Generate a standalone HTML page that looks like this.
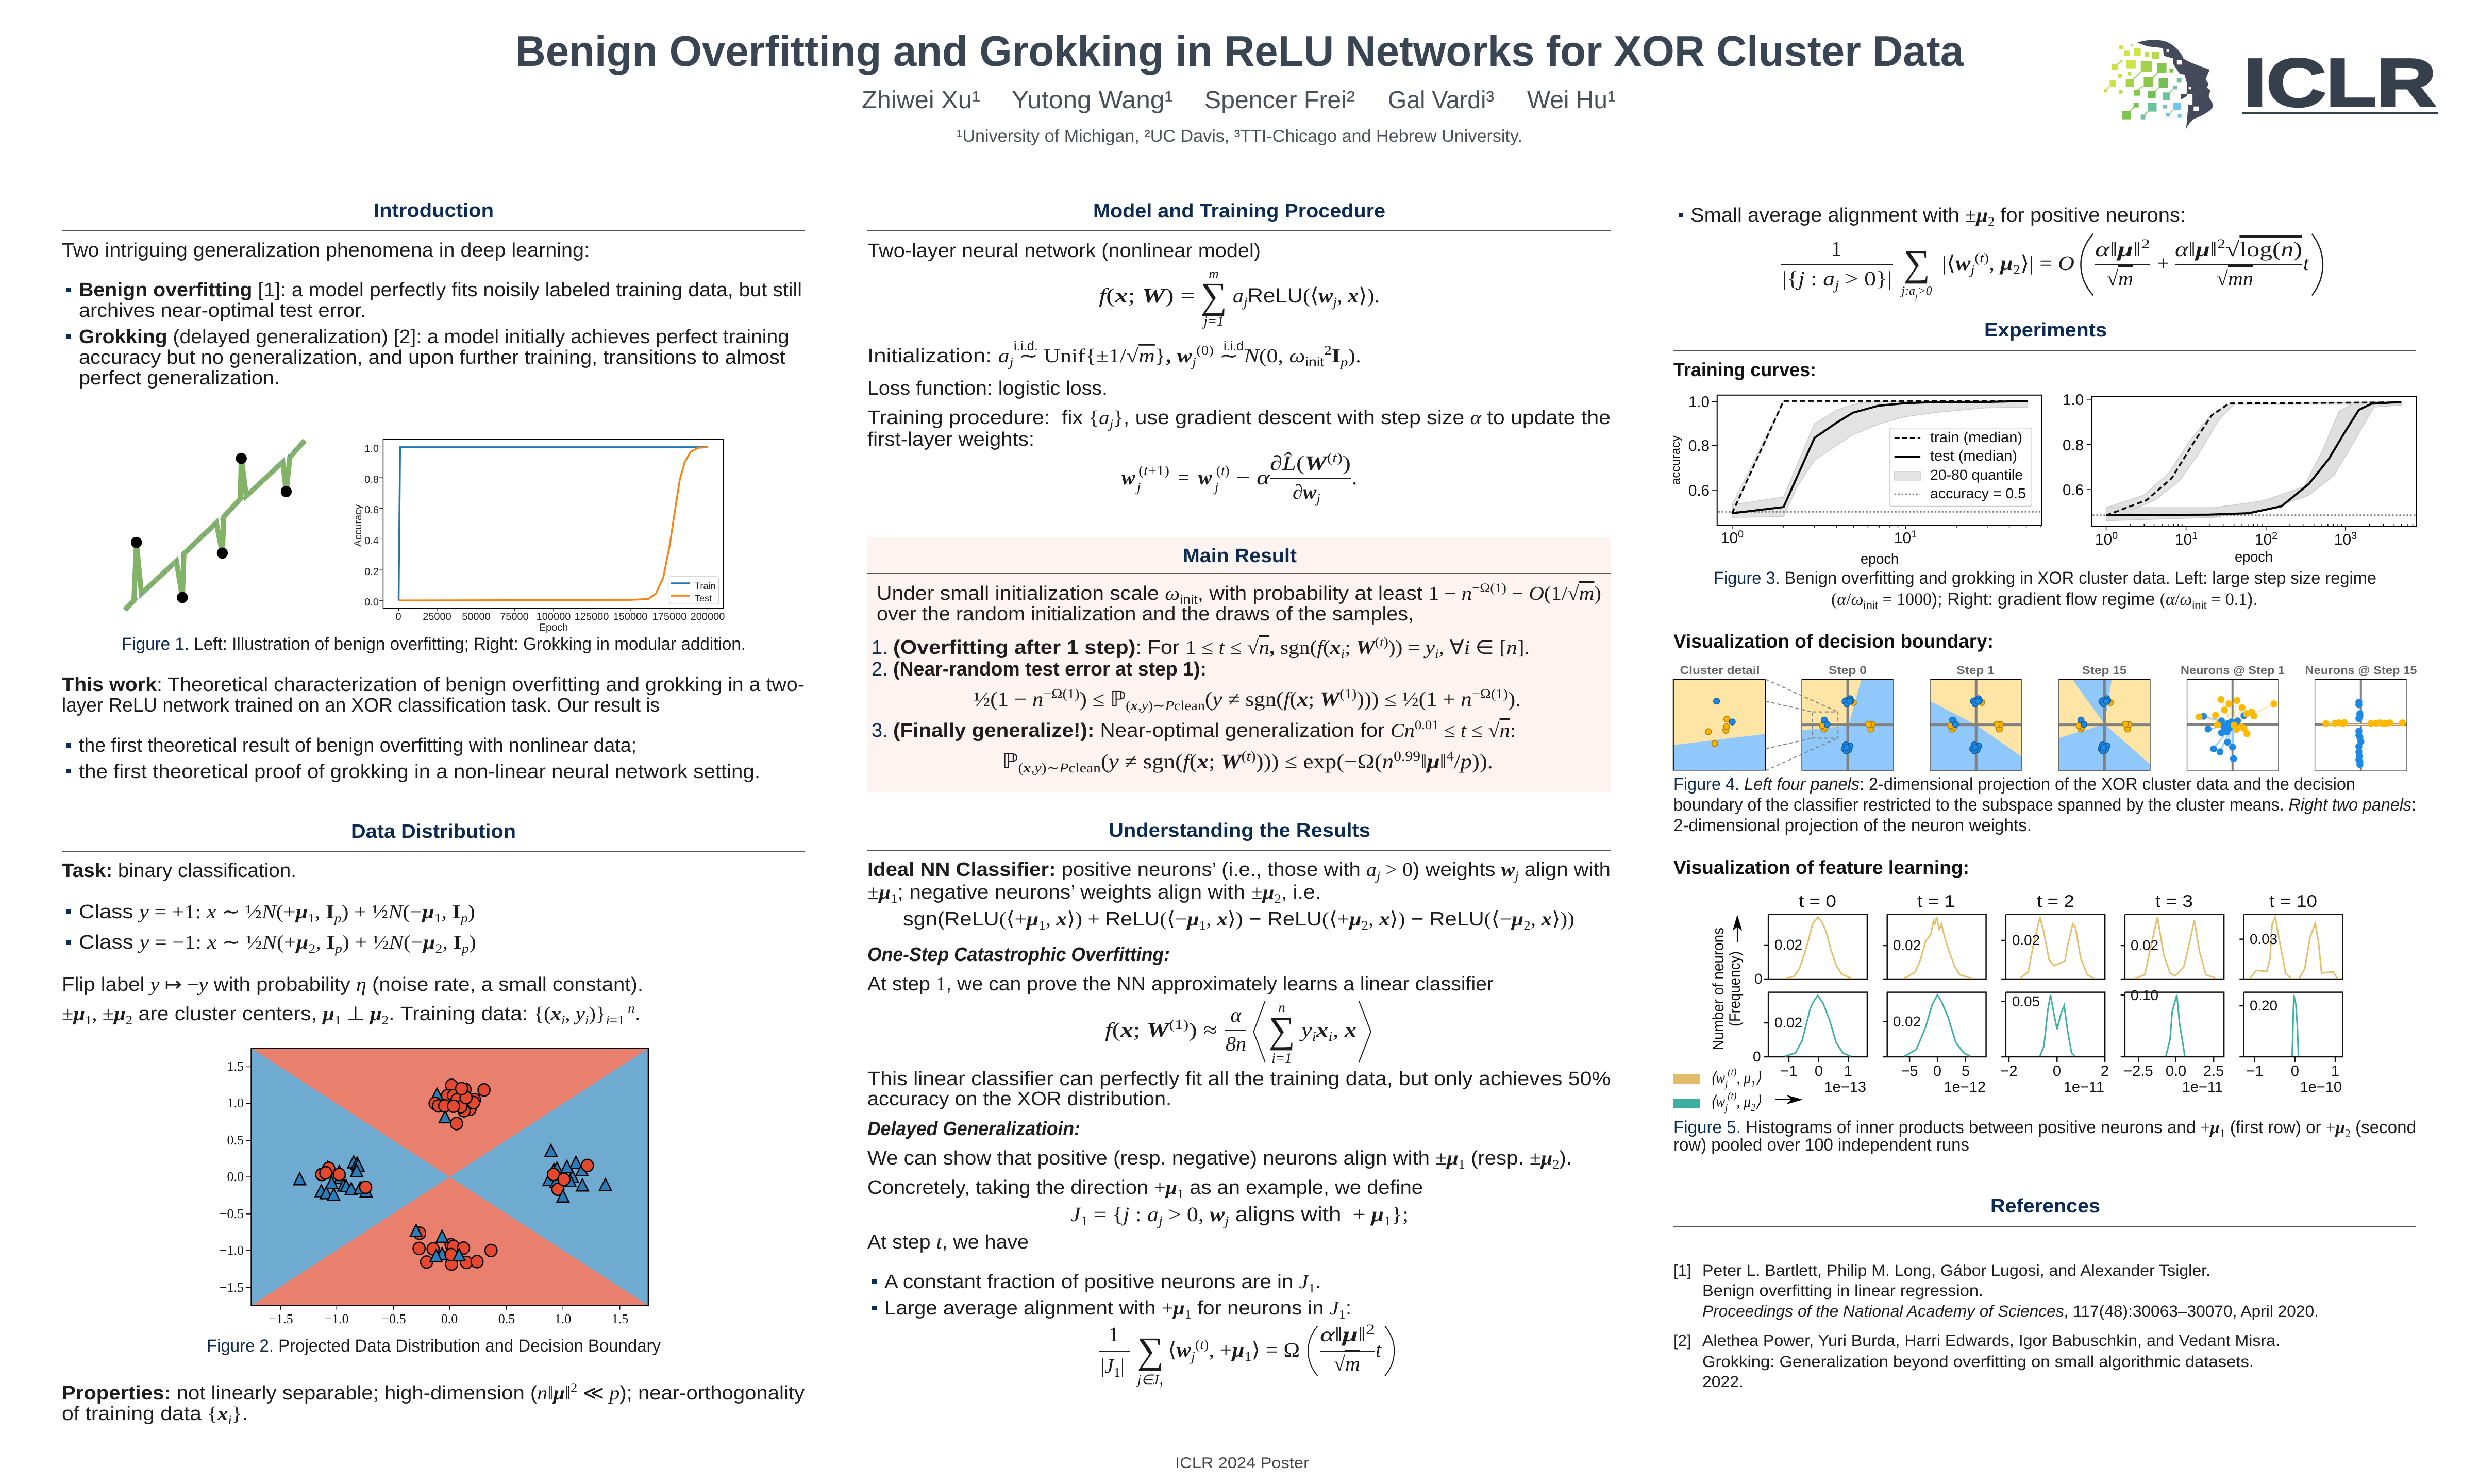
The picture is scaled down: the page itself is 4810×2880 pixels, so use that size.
<!DOCTYPE html>
<html lang="en"><head><meta charset="utf-8"><title>Benign Overfitting and Grokking in ReLU Networks for XOR Cluster Data</title>
<style>
html,body{margin:0;padding:0;background:#fff}
svg{display:block}
text{font-family:"Liberation Sans",sans-serif;text-rendering:geometricPrecision;white-space:pre}
.b{font-size:38px;fill:#1d1d1d}
.h{font-size:38px;font-weight:700;fill:#0b2b52}
.sh{font-size:37px;font-weight:700;fill:#111}
.c{font-size:34px;fill:#1d1d1d}
.r{font-size:31px;fill:#1d1d1d}
.e{font-size:40px;fill:#1d1d1d}
.t{font-size:28px;fill:#111}
.tk{font-size:30px;fill:#111}
.tt{font-size:26px;font-family:"Liberation Serif",serif;fill:#111}
.n{fill:#0b2b52}
.i{font-family:"Liberation Serif",serif;font-style:italic}
.s{font-family:"Liberation Serif",serif}
.v{font-family:"Liberation Serif",serif;font-style:italic;font-weight:700}
.w{font-weight:700}
.u{baseline-shift:-8px;font-size:.66em}
.o{baseline-shift:15px;font-size:.66em}
.it{font-style:italic}
.g{font-size:22px;font-weight:700;fill:#666;text-anchor:middle}
</style></head><body>
<svg xmlns="http://www.w3.org/2000/svg" width="4810" height="2880" viewBox="0 0 4810 2880">
<defs>
<ellipse id="C" rx="12" ry="15" fill="#e4482f" stroke="#000" stroke-width="2.5" vector-effect="non-scaling-stroke"/>
<path id="T" d="M0,-15L-12,14L12,14Z" fill="#2a7db8" stroke="#000" stroke-width="2.5" vector-effect="non-scaling-stroke"/>
<ellipse id="by" rx="12" ry="17.5" fill="#ffb300" stroke="#a67c00" stroke-width="1.5" vector-effect="non-scaling-stroke"/>
<ellipse id="bb" rx="12" ry="17.5" fill="#1e88e5" stroke="#0d5a9e" stroke-width="1.5" vector-effect="non-scaling-stroke"/>
<ellipse id="dy" rx="7" ry="10.5" fill="#ffb900"/>
<ellipse id="db" rx="7" ry="10.5" fill="#1e88e5"/>
<g id="cl">
<use href="#by" x="735" y="250"/><use href="#bb" x="722" y="228"/><use href="#bb" x="705" y="240"/><use href="#bb" x="725" y="240"/><use href="#bb" x="701" y="243"/><use href="#bb" x="708" y="258"/><use href="#bb" x="720" y="243"/>
<use href="#by" x="805" y="405"/><use href="#by" x="810" y="378"/><use href="#by" x="796" y="376"/>
<use href="#by" x="617" y="405"/><use href="#by" x="622" y="393"/><use href="#by" x="610" y="385"/><use href="#bb" x="618" y="352"/><use href="#bb" x="630" y="377"/>
<use href="#bb" x="722" y="503"/><use href="#bb" x="716" y="525"/><use href="#bb" x="698" y="520"/><use href="#bb" x="706" y="532"/><use href="#bb" x="704" y="497"/><use href="#bb" x="708" y="512"/>
</g>
</defs>

<!-- Header -->
<text x="1000" y="128" font-size="84" font-weight="700" fill="#3a4554" textLength="2810" lengthAdjust="spacingAndGlyphs">Benign Overfitting and Grokking in ReLU Networks for XOR Cluster Data</text>
<g font-size="48" fill="#4a4f58">
<text x="1672" y="210" textLength="230" lengthAdjust="spacingAndGlyphs">Zhiwei Xu¹</text>
<text x="1963" y="210" textLength="313" lengthAdjust="spacingAndGlyphs">Yutong Wang¹</text>
<text x="2337" y="210" textLength="292" lengthAdjust="spacingAndGlyphs">Spencer Frei²</text>
<text x="2693" y="210" textLength="206" lengthAdjust="spacingAndGlyphs">Gal Vardi³</text>
<text x="2963" y="210" textLength="172" lengthAdjust="spacingAndGlyphs">Wei Hu¹</text>
</g>
<text x="1856" y="275" font-size="33" fill="#4a4f58" textLength="1098" lengthAdjust="spacingAndGlyphs">¹University of Michigan, ²UC Davis, ³TTI-Chicago and Hebrew University.</text>

<!-- Logo -->
<g transform="matrix(.4464,0,0,.3333,4080,60)">
<g stroke-width="5">
<path d="M63,195L78,180M165,240L130,285M238,245L218,272M177,320L150,345M243,330L228,350M305,340L290,360M137,445L118,465M196,468L182,490M305,460L292,480M28,325L18,340" stroke="#8fcf55" fill="none"/>
</g>
<g>
<rect x="72" y="85" width="18" height="22" fill="#d3e04b"/><rect x="123" y="75" width="10" height="12" fill="#d3e04b"/><rect x="135" y="102" width="30" height="42" fill="#cee54a"/><rect x="94" y="115" width="22" height="32" fill="#cce34a"/><rect x="182" y="122" width="18" height="28" fill="#bfdc4a"/><rect x="215" y="122" width="30" height="40" fill="#b5d94b"/><rect x="103" y="168" width="40" height="50" fill="#cde548"/><rect x="74" y="168" width="12" height="16" fill="#c9e04a"/><rect x="40" y="195" width="25" height="32" fill="#c9e04a"/><rect x="165" y="175" width="48" height="65" fill="#a5d24b"/><rect x="235" y="188" width="42" height="58" fill="#84c64d"/><rect x="290" y="220" width="17" height="22" fill="#7bc24e"/><rect x="110" y="240" width="14" height="20" fill="#c1dc4a"/><rect x="67" y="250" width="18" height="22" fill="#c5df4a"/><rect x="30" y="288" width="28" height="36" fill="#cbe44a"/><rect x="6" y="336" width="14" height="20" fill="#c9e04a"/><rect x="72" y="345" width="14" height="20" fill="#b5d94b"/><rect x="100" y="282" width="35" height="44" fill="#a5d24b"/><rect x="178" y="270" width="40" height="55" fill="#8bc94c"/><rect x="243" y="276" width="40" height="55" fill="#73bf55"/><rect x="322" y="273" width="20" height="28" fill="#6cc596"/><rect x="135" y="345" width="28" height="32" fill="#85c84d"/><rect x="196" y="348" width="34" height="42" fill="#71bf56"/><rect x="260" y="358" width="32" height="46" fill="#6cc29a"/><rect x="305" y="318" width="18" height="22" fill="#67c3a0"/><rect x="134" y="418" width="22" height="28" fill="#79c150"/><rect x="196" y="418" width="38" height="52" fill="#6cc49a"/><rect x="83" y="465" width="38" height="50" fill="#7fc44f"/><rect x="165" y="487" width="20" height="28" fill="#72c49c"/><rect x="262" y="430" width="16" height="22" fill="#6fc5c5"/><rect x="305" y="418" width="34" height="44" fill="#73c4ee"/><rect x="275" y="477" width="18" height="22" fill="#6dc2ee"/><rect x="326" y="486" width="16" height="20" fill="#75c5e8"/>
</g>
<path d="M150,68C190,50 260,40 300,80C325,105 340,125 350,160C370,180 420,205 465,225L447,280L460,310L452,330L468,345L460,380L480,430C480,460 440,490 400,510C380,525 365,560 362,575L372,430L365,380L340,400L340,368L365,365L365,300L355,255L335,250L305,190L305,160L265,145L262,100L195,90Z" fill="#444a5c"/>
<rect x="277" y="105" width="12" height="16" fill="#fff"/><rect x="322" y="170" width="21" height="26" fill="#fff"/><rect x="373" y="324" width="12" height="16" fill="#fff"/><rect x="395" y="440" width="22" height="28" fill="#fff"/>
<rect x="365" y="368" width="25" height="62" fill="#fff"/>
</g>
<text x="4353" y="206" font-size="132" font-weight="700" fill="#36404c" stroke="#36404c" stroke-width="4" textLength="374" lengthAdjust="spacingAndGlyphs">ICLR</text>
<rect x="4351" y="218" width="379" height="3" fill="#36404c"/>

<!-- Column 1: Introduction -->
<text x="725" y="421" class="h" textLength="233" lengthAdjust="spacingAndGlyphs">Introduction</text>
<rect x="120" y="447" width="1441" height="2" fill="#555"/>
<text x="120" y="498" class="b" textLength="1024" lengthAdjust="spacingAndGlyphs">Two intriguing generalization phenomena in deep learning:</text>
<rect x="128" y="558" width="9" height="9" fill="#0b2b52"/>
<text x="153" y="575" class="b" textLength="1403" lengthAdjust="spacingAndGlyphs"><tspan class="w">Benign overfitting</tspan> [1]: a model perfectly fits noisily labeled training data, but still</text>
<text x="153" y="615" class="b" textLength="557" lengthAdjust="spacingAndGlyphs">archives near-optimal test error.</text>
<rect x="128" y="649" width="9" height="9" fill="#0b2b52"/>
<text x="153" y="666" class="b" textLength="1378" lengthAdjust="spacingAndGlyphs"><tspan class="w">Grokking</tspan> (delayed generalization) [2]: a model initially achieves perfect training</text>
<text x="153" y="706" class="b" textLength="1371" lengthAdjust="spacingAndGlyphs">accuracy but no generalization, and upon further training, transitions to almost</text>
<text x="153" y="746" class="b" textLength="390" lengthAdjust="spacingAndGlyphs">perfect generalization.</text>

<!-- Figure 1 -->
<g transform="matrix(.969,0,0,.574,100,380)">
<path d="M147,1400L165,1368L170,1175L180,1345L250,1235L262,1358L265,1210L330,1105L342,1208L345,1085L378,1025L380,888L390,1015L463,900L470,1000L477,885L507,827" fill="none" stroke="#82b366" stroke-width="10" vector-effect="non-scaling-stroke"/>
<path d="M147,1400L507,827" fill="none" stroke="#6c8ebf" stroke-width="4" stroke-dasharray="3 12" vector-effect="non-scaling-stroke"/>
<g fill="#000">
<ellipse cx="170" cy="1172" rx="11" ry="19"/><ellipse cx="262" cy="1358" rx="11" ry="19"/><ellipse cx="342" cy="1208" rx="11" ry="19"/><ellipse cx="380" cy="888" rx="11" ry="19"/><ellipse cx="470" cy="1000" rx="11" ry="19"/>
</g>
<rect x="664" y="823" width="681" height="572" fill="#fff" stroke="#000" stroke-width="1.5" vector-effect="non-scaling-stroke"/>
<path d="M664,849h-8M664,953h-8M664,1057h-8M664,1161h-8M664,1265h-8M664,1368h-8M695,1395v8M772,1395v8M850,1395v8M927,1395v8M1005,1395v8M1082,1395v8M1159,1395v8M1237,1395v8M1314,1395v8" stroke="#000" stroke-width="1" vector-effect="non-scaling-stroke" fill="none"/>
<path d="M695,1368L698,850L1314,850" fill="none" stroke="#1f77b4" stroke-width="3.5" vector-effect="non-scaling-stroke"/>
<path d="M695,1366L700,1368L1160,1366L1195,1363L1210,1345L1225,1290L1238,1180L1245,1100L1258,960L1268,900L1280,865L1295,852L1314,850" fill="none" stroke="#ff7f0e" stroke-width="3.5" vector-effect="non-scaling-stroke"/>
<rect x="1235" y="1287" width="101" height="93" rx="6" fill="#fff" stroke="#ccc" stroke-width="1" vector-effect="non-scaling-stroke"/>
<path d="M1240,1310h38" stroke="#1f77b4" stroke-width="3.5" vector-effect="non-scaling-stroke"/>
<path d="M1240,1352h38" stroke="#ff7f0e" stroke-width="3.5" vector-effect="non-scaling-stroke"/>
</g>
<g font-size="20" fill="#222" text-anchor="end">
<text x="735" y="877">1.0</text><text x="735" y="937">0.8</text><text x="735" y="996">0.6</text><text x="735" y="1056">0.4</text><text x="735" y="1116">0.2</text><text x="735" y="1175">0.0</text>
</g>
<g font-size="20" fill="#222" text-anchor="middle">
<text x="773" y="1203">0</text><text x="848" y="1203">25000</text><text x="924" y="1203">50000</text><text x="998" y="1203">75000</text><text x="1074" y="1203">100000</text><text x="1148" y="1203">125000</text><text x="1223" y="1203">150000</text><text x="1299" y="1203">175000</text><text x="1373" y="1203">200000</text>
<text x="1074" y="1224">Epoch</text>
</g>
<text transform="translate(701,1020) rotate(-90)" font-size="20" fill="#222" text-anchor="middle">Accuracy</text>
<text x="1348" y="1143" font-size="18" fill="#222">Train</text>
<text x="1348" y="1167" font-size="18" fill="#222">Test</text>
<text x="236" y="1261" class="c" textLength="1211" lengthAdjust="spacingAndGlyphs"><tspan class="n">Figure 1.</tspan> Left: Illustration of benign overfitting; Right: Grokking in modular addition.</text>

<!-- This work -->
<text x="120" y="1341" class="b" textLength="1441" lengthAdjust="spacingAndGlyphs"><tspan class="w">This work</tspan>: Theoretical characterization of benign overfitting and grokking in a two-</text>
<text x="120" y="1381" class="b" textLength="1160" lengthAdjust="spacingAndGlyphs">layer ReLU network trained on an XOR classification task. Our result is</text>
<rect x="128" y="1442" width="9" height="9" fill="#0b2b52"/>
<text x="153" y="1459" class="b" textLength="1082" lengthAdjust="spacingAndGlyphs">the first theoretical result of benign overfitting with nonlinear data;</text>
<rect x="128" y="1492" width="9" height="9" fill="#0b2b52"/>
<text x="153" y="1510" class="b" textLength="1322" lengthAdjust="spacingAndGlyphs">the first theoretical proof of grokking in a non-linear neural network setting.</text>

<!-- Data Distribution -->
<text x="681" y="1626" class="h" textLength="320" lengthAdjust="spacingAndGlyphs">Data Distribution</text>
<rect x="120" y="1652" width="1441" height="2" fill="#555"/>
<text x="120" y="1702" class="b" textLength="455" lengthAdjust="spacingAndGlyphs"><tspan class="w">Task:</tspan> binary classification.</text>
<rect x="128" y="1765" width="9" height="9" fill="#0b2b52"/>
<text x="153" y="1782" class="b" textLength="769" lengthAdjust="spacingAndGlyphs">Class <tspan class="i">y</tspan><tspan class="s"> = +1: </tspan><tspan class="i">x</tspan><tspan class="s"> ∼ ½</tspan><tspan class="i">N</tspan><tspan class="s">(+</tspan><tspan class="v">μ</tspan><tspan class="s u">1</tspan><tspan class="s">, </tspan><tspan class="s w">I</tspan><tspan class="i u">p</tspan><tspan class="s">) + ½</tspan><tspan class="i">N</tspan><tspan class="s">(−</tspan><tspan class="v">μ</tspan><tspan class="s u">1</tspan><tspan class="s">, </tspan><tspan class="s w">I</tspan><tspan class="i u">p</tspan><tspan class="s">)</tspan></text>
<rect x="128" y="1824" width="9" height="9" fill="#0b2b52"/>
<text x="153" y="1841" class="b" textLength="771" lengthAdjust="spacingAndGlyphs">Class <tspan class="i">y</tspan><tspan class="s"> = −1: </tspan><tspan class="i">x</tspan><tspan class="s"> ∼ ½</tspan><tspan class="i">N</tspan><tspan class="s">(+</tspan><tspan class="v">μ</tspan><tspan class="s u">2</tspan><tspan class="s">, </tspan><tspan class="s w">I</tspan><tspan class="i u">p</tspan><tspan class="s">) + ½</tspan><tspan class="i">N</tspan><tspan class="s">(−</tspan><tspan class="v">μ</tspan><tspan class="s u">2</tspan><tspan class="s">, </tspan><tspan class="s w">I</tspan><tspan class="i u">p</tspan><tspan class="s">)</tspan></text>
<text x="120" y="1923" class="b" textLength="1128" lengthAdjust="spacingAndGlyphs">Flip label <tspan class="i">y</tspan><tspan class="s"> ↦ −</tspan><tspan class="i">y</tspan> with probability <tspan class="i">η</tspan> (noise rate, a small constant).</text>
<text x="120" y="1980" class="b" textLength="1123" lengthAdjust="spacingAndGlyphs"><tspan class="s">±</tspan><tspan class="v">μ</tspan><tspan class="s u">1</tspan><tspan class="s">, ±</tspan><tspan class="v">μ</tspan><tspan class="s u">2</tspan> are cluster centers, <tspan class="v">μ</tspan><tspan class="s u">1</tspan><tspan class="s"> ⊥ </tspan><tspan class="v">μ</tspan><tspan class="s u">2</tspan>. Training data: <tspan class="s">{(</tspan><tspan class="v">x</tspan><tspan class="i u">i</tspan><tspan class="s">, </tspan><tspan class="i">y</tspan><tspan class="i u">i</tspan><tspan class="s">)}</tspan><tspan class="i u">i</tspan><tspan class="s u">=1</tspan><tspan class="i o"> n</tspan>.</text>

<!-- Figure 2 -->
<g transform="matrix(.969,0,0,.7974,100,1580)">
<rect x="400" y="570" width="795" height="626" fill="#6fabd1"/>
<path d="M400,570H1195L797,883ZM400,1196H1195L797,883Z" fill="#e97f6d"/>
<rect x="400" y="570" width="795" height="626" fill="none" stroke="#000" stroke-width="2.5" vector-effect="non-scaling-stroke"/>
<path d="M400,615h-10M400,704h-10M400,794h-10M400,883h-10M400,973h-10M400,1062h-10M400,1152h-10M459,1196v10M571,1196v10M685,1196v10M797,1196v10M911,1196v10M1024,1196v10M1138,1196v10" stroke="#000" stroke-width="1.5" vector-effect="non-scaling-stroke" fill="none"/>
<use href="#T" x="772" y="682"/><use href="#T" x="788" y="737"/>
<use href="#C" x="801" y="660"/><use href="#C" x="828" y="670"/><use href="#C" x="866" y="671"/><use href="#C" x="793" y="685"/><use href="#C" x="805" y="685"/><use href="#C" x="847" y="695"/><use href="#C" x="812" y="695"/><use href="#C" x="768" y="704"/><use href="#C" x="775" y="710"/><use href="#C" x="838" y="718"/><use href="#C" x="826" y="722"/><use href="#C" x="845" y="702"/><use href="#C" x="820" y="712"/><use href="#C" x="787" y="710"/><use href="#C" x="805" y="711"/><use href="#C" x="830" y="690"/><use href="#C" x="821" y="668"/><use href="#C" x="811" y="753"/>
<use href="#C" x="737" y="1020"/><use href="#C" x="736" y="1057"/><use href="#C" x="764" y="1058"/><use href="#C" x="800" y="1048"/><use href="#C" x="805" y="1052"/><use href="#C" x="825" y="1056"/><use href="#C" x="880" y="1062"/><use href="#C" x="751" y="1090"/><use href="#C" x="801" y="1095"/><use href="#C" x="831" y="1091"/><use href="#C" x="852" y="1089"/><use href="#T" x="730" y="1014"/><use href="#T" x="782" y="1028"/><use href="#T" x="782" y="1070"/><use href="#T" x="770" y="1075"/><use href="#C" x="800" y="1072"/><use href="#T" x="816" y="1073"/>
<use href="#T" x="497" y="888"/><use href="#C" x="541" y="877"/><use href="#T" x="540" y="917"/><use href="#T" x="550" y="922"/><use href="#T" x="565" y="926"/><use href="#T" x="553" y="860"/><use href="#T" x="576" y="870"/><use href="#T" x="578" y="885"/><use href="#T" x="561" y="897"/><use href="#T" x="585" y="903"/><use href="#T" x="590" y="905"/><use href="#T" x="600" y="912"/><use href="#T" x="618" y="910"/><use href="#T" x="630" y="918"/><use href="#T" x="605" y="847"/><use href="#T" x="612" y="850"/><use href="#T" x="614" y="855"/><use href="#T" x="611" y="868"/><use href="#C" x="555" y="862"/><use href="#C" x="549" y="873"/><use href="#C" x="576" y="877"/><use href="#C" x="629" y="908"/>
<use href="#T" x="1000" y="819"/><use href="#T" x="1006" y="866"/><use href="#T" x="1012" y="862"/><use href="#T" x="996" y="890"/><use href="#T" x="1010" y="895"/><use href="#T" x="1050" y="848"/><use href="#T" x="1062" y="866"/><use href="#T" x="1043" y="882"/><use href="#T" x="1038" y="892"/><use href="#T" x="1063" y="903"/><use href="#T" x="1109" y="902"/><use href="#C" x="1014" y="913"/><use href="#T" x="1024" y="930"/><use href="#T" x="1032" y="858"/><use href="#C" x="1005" y="877"/><use href="#C" x="1026" y="889"/><use href="#C" x="1073" y="855"/>
</g>
<g class="tt" text-anchor="end">
<text x="473" y="2078" class="tt">1.5</text><text x="473" y="2149" class="tt">1.0</text><text x="473" y="2221" class="tt">0.5</text><text x="473" y="2292" class="tt">0.0</text><text x="473" y="2364" class="tt">−0.5</text><text x="473" y="2435" class="tt">−1.0</text><text x="473" y="2507" class="tt">−1.5</text>
</g>
<g text-anchor="middle">
<text x="545" y="2568" class="tt">−1.5</text><text x="653" y="2568" class="tt">−1.0</text><text x="764" y="2568" class="tt">−0.5</text><text x="872" y="2568" class="tt">0.0</text><text x="983" y="2568" class="tt">0.5</text><text x="1092" y="2568" class="tt">1.0</text><text x="1203" y="2568" class="tt">1.5</text>
</g>
<text x="401" y="2623" class="c" textLength="881" lengthAdjust="spacingAndGlyphs"><tspan class="n">Figure 2.</tspan> Projected Data Distribution and Decision Boundary</text>
<text x="120" y="2716" class="b" textLength="1441" lengthAdjust="spacingAndGlyphs"><tspan class="w">Properties:</tspan> not linearly separable; high-dimension (<tspan class="i">n</tspan><tspan class="s">‖</tspan><tspan class="v">μ</tspan><tspan class="s">‖</tspan><tspan class="s o">2</tspan><tspan class="s"> ≪ </tspan><tspan class="i">p</tspan>); near-orthogonality</text>
<text x="120" y="2756" class="b" textLength="361" lengthAdjust="spacingAndGlyphs">of training data <tspan class="s">{</tspan><tspan class="v">x</tspan><tspan class="i u">i</tspan><tspan class="s">}</tspan>.</text>

<!-- Column 2 -->
<text x="2121" y="422" class="h" textLength="567" lengthAdjust="spacingAndGlyphs">Model and Training Procedure</text>
<rect x="1683" y="447" width="1442" height="2" fill="#555"/>
<text x="1683" y="499" class="b" textLength="763" lengthAdjust="spacingAndGlyphs">Two-layer neural network (nonlinear model)</text>
<text x="2132" y="587" class="e" textLength="187" lengthAdjust="spacingAndGlyphs"><tspan class="i">f</tspan><tspan class="s">(</tspan><tspan class="v">x</tspan><tspan class="s">; </tspan><tspan class="v">W</tspan><tspan class="s">) =</tspan></text>
<text x="2355" y="598" font-size="72" class="s" text-anchor="middle" fill="#1d1d1d">∑</text>
<text x="2355" y="540" font-size="27" class="i" text-anchor="middle" fill="#1d1d1d">m</text>
<text x="2355" y="632" font-size="27" class="i" text-anchor="middle" fill="#1d1d1d">j<tspan class="s">=1</tspan></text>
<text x="2392" y="587" class="e" textLength="285" lengthAdjust="spacingAndGlyphs"><tspan class="i">a</tspan><tspan class="i u">j</tspan>ReLU<tspan class="s">(⟨</tspan><tspan class="v">w</tspan><tspan class="i u">j</tspan><tspan class="s">, </tspan><tspan class="v">x</tspan><tspan class="s">⟩).</tspan></text>
<text x="1683" y="703" class="b" textLength="958" lengthAdjust="spacingAndGlyphs">Initialization: <tspan class="i">a</tspan><tspan class="i u">j</tspan><tspan class="s"> ∼ Unif{±1/√</tspan><tspan class="i" style="text-decoration:overline">m</tspan><tspan class="s">}</tspan><tspan class="s w">, </tspan><tspan class="v">w</tspan><tspan class="i u">j</tspan><tspan class="s o">(0)</tspan><tspan class="s"> ∼ </tspan><tspan class="i">N</tspan><tspan class="s">(0, </tspan><tspan class="i">ω</tspan><tspan class="u">init</tspan><tspan class="s o">2</tspan><tspan class="s w">I</tspan><tspan class="i u">p</tspan><tspan class="s">).</tspan></text>
<text x="1967" y="680" font-size="26" fill="#1d1d1d" textLength="47" lengthAdjust="spacingAndGlyphs">i.i.d.</text><text x="2374" y="680" font-size="26" fill="#1d1d1d" textLength="46" lengthAdjust="spacingAndGlyphs">i.i.d.</text>
<text x="1683" y="766" class="b" textLength="466" lengthAdjust="spacingAndGlyphs">Loss function: logistic loss.</text>
<text x="1683" y="823" class="b" textLength="1442" lengthAdjust="spacingAndGlyphs">Training procedure:  fix <tspan class="s">{</tspan><tspan class="i">a</tspan><tspan class="i u">j</tspan><tspan class="s">}</tspan>, use gradient descent with step size <tspan class="i">α</tspan> to update the</text>
<text x="1683" y="865" class="b" textLength="324" lengthAdjust="spacingAndGlyphs">first-layer weights:</text>
<text x="2176" y="940" class="e v" fill="#1d1d1d">w</text><text x="2206" y="954" font-size="26" class="i" fill="#1d1d1d">j</text><text x="2209" y="922" font-size="27" class="s" fill="#1d1d1d" textLength="60" lengthAdjust="spacingAndGlyphs">(<tspan class="i">t</tspan>+1)</text>
<text x="2285" y="940" class="e s" fill="#1d1d1d">=</text><text x="2325" y="940" class="e v" fill="#1d1d1d">w</text><text x="2357" y="954" font-size="26" class="i" fill="#1d1d1d">j</text><text x="2360" y="922" font-size="27" class="s" fill="#1d1d1d">(<tspan class="i">t</tspan>)</text>
<text x="2398" y="940" class="e s" fill="#1d1d1d" textLength="66" lengthAdjust="spacingAndGlyphs">− <tspan class="i">α</tspan></text>
<text x="2464" y="912" class="e" fill="#1d1d1d" textLength="157" lengthAdjust="spacingAndGlyphs"><tspan class="i">∂L̂</tspan><tspan class="s">(</tspan><tspan class="v">W</tspan><tspan class="s o">(</tspan><tspan class="i o">t</tspan><tspan class="s o">)</tspan><tspan class="s">)</tspan></text>
<rect x="2464" y="928" width="157" height="2" fill="#1d1d1d"/>
<text x="2508" y="968" class="e" fill="#1d1d1d"><tspan class="i">∂</tspan><tspan class="v">w</tspan><tspan class="i u">j</tspan></text>
<text x="2623" y="940" class="e s" fill="#1d1d1d">.</text>

<!-- Main Result -->
<rect x="1683" y="1042" width="1442" height="496" fill="#fdf3f1"/>
<text x="2295" y="1091" class="h" textLength="221" lengthAdjust="spacingAndGlyphs">Main Result</text>
<rect x="1683" y="1112" width="1442" height="2" fill="#555"/>
<text x="1701" y="1164" class="b" textLength="1406" lengthAdjust="spacingAndGlyphs">Under small initialization scale <tspan class="i">ω</tspan><tspan class="u">init</tspan>, with probability at least <tspan class="s">1 − </tspan><tspan class="i">n</tspan><tspan class="s o">−Ω(1)</tspan><tspan class="s"> − </tspan><tspan class="i">O</tspan><tspan class="s">(1/√</tspan><tspan class="i" style="text-decoration:overline">m</tspan><tspan class="s">)</tspan></text>
<text x="1701" y="1204" class="b" textLength="1042" lengthAdjust="spacingAndGlyphs">over the random initialization and the draws of the samples,</text>
<text x="1691" y="1269" class="b n">1.</text>
<text x="1733" y="1269" class="b" textLength="1235" lengthAdjust="spacingAndGlyphs"><tspan class="w">(Overfitting after 1 step)</tspan>: For <tspan class="s">1 ≤ </tspan><tspan class="i">t</tspan><tspan class="s"> ≤ √</tspan><tspan class="i" style="text-decoration:overline">n</tspan><tspan class="s w">, </tspan><tspan class="s">sgn(</tspan><tspan class="i">f</tspan><tspan class="s">(</tspan><tspan class="v">x</tspan><tspan class="i u">i</tspan><tspan class="s">; </tspan><tspan class="v">W</tspan><tspan class="s o">(</tspan><tspan class="i o">t</tspan><tspan class="s o">)</tspan><tspan class="s">)) = </tspan><tspan class="i">y</tspan><tspan class="i u">i</tspan><tspan class="s">, ∀</tspan><tspan class="i">i</tspan><tspan class="s"> ∈ [</tspan><tspan class="i">n</tspan><tspan class="s">].</tspan></text>
<text x="1691" y="1311" class="b n">2.</text>
<text x="1733" y="1311" class="b w" textLength="608" lengthAdjust="spacingAndGlyphs">(Near-random test error at step 1):</text>
<text x="1889" y="1370" class="e s" fill="#1d1d1d" textLength="1062" lengthAdjust="spacingAndGlyphs">½(1 − <tspan class="i">n</tspan><tspan class="o">−Ω(1)</tspan>) ≤ ℙ<tspan class="u">(</tspan><tspan class="v u">x</tspan><tspan class="u">,</tspan><tspan class="i u">y</tspan><tspan class="u">)∼</tspan><tspan class="i u">P</tspan><tspan class="u">clean</tspan>(<tspan class="i">y</tspan> ≠ sgn(<tspan class="i">f</tspan>(<tspan class="v">x</tspan>; <tspan class="v">W</tspan><tspan class="o">(1)</tspan>))) ≤ ½(1 + <tspan class="i">n</tspan><tspan class="o">−Ω(1)</tspan>).</text>
<text x="1691" y="1430" class="b n">3.</text>
<text x="1733" y="1430" class="b" textLength="1208" lengthAdjust="spacingAndGlyphs"><tspan class="w">(Finally generalize!):</tspan> Near-optimal generalization for <tspan class="i">Cn</tspan><tspan class="s o">0.01</tspan><tspan class="s"> ≤ </tspan><tspan class="i">t</tspan><tspan class="s"> ≤ √</tspan><tspan class="i" style="text-decoration:overline">n</tspan><tspan class="s">:</tspan></text>
<text x="1944" y="1491" class="e s" fill="#1d1d1d" textLength="953" lengthAdjust="spacingAndGlyphs">ℙ<tspan class="u">(</tspan><tspan class="v u">x</tspan><tspan class="u">,</tspan><tspan class="i u">y</tspan><tspan class="u">)∼</tspan><tspan class="i u">P</tspan><tspan class="u">clean</tspan>(<tspan class="i">y</tspan> ≠ sgn(<tspan class="i">f</tspan>(<tspan class="v">x</tspan>; <tspan class="v">W</tspan><tspan class="o">(</tspan><tspan class="i o">t</tspan><tspan class="o">)</tspan>))) ≤ exp(−Ω(<tspan class="i">n</tspan><tspan class="o">0.99</tspan>‖<tspan class="v">μ</tspan>‖<tspan class="o">4</tspan>/<tspan class="i">p</tspan>)).</text>

<!-- Understanding -->
<text x="2151" y="1624" class="h" textLength="508" lengthAdjust="spacingAndGlyphs">Understanding the Results</text>
<rect x="1683" y="1649" width="1442" height="2" fill="#555"/>
<text x="1683" y="1700" class="b" textLength="1442" lengthAdjust="spacingAndGlyphs"><tspan class="w">Ideal NN Classifier:</tspan> positive neurons’ (i.e., those with <tspan class="i">a</tspan><tspan class="i u">j</tspan><tspan class="s"> &gt; 0</tspan>) weights <tspan class="v">w</tspan><tspan class="i u">j</tspan> align with</text>
<text x="1683" y="1744" class="b" textLength="880" lengthAdjust="spacingAndGlyphs"><tspan class="s">±</tspan><tspan class="v">μ</tspan><tspan class="s u">1</tspan>; negative neurons’ weights align with <tspan class="s">±</tspan><tspan class="v">μ</tspan><tspan class="s u">2</tspan>, i.e.</text>
<text x="1752" y="1796" class="b" textLength="1303" lengthAdjust="spacingAndGlyphs">sgn(ReLU<tspan class="s">(⟨+</tspan><tspan class="v">μ</tspan><tspan class="s u">1</tspan><tspan class="s">, </tspan><tspan class="v">x</tspan><tspan class="s">⟩) + </tspan>ReLU<tspan class="s">(⟨−</tspan><tspan class="v">μ</tspan><tspan class="s u">1</tspan><tspan class="s">, </tspan><tspan class="v">x</tspan><tspan class="s">⟩)</tspan> − ReLU<tspan class="s">(⟨+</tspan><tspan class="v">μ</tspan><tspan class="s u">2</tspan><tspan class="s">, </tspan><tspan class="v">x</tspan><tspan class="s">⟩)</tspan> − ReLU<tspan class="s">(⟨−</tspan><tspan class="v">μ</tspan><tspan class="s u">2</tspan><tspan class="s">, </tspan><tspan class="v">x</tspan><tspan class="s">⟩))</tspan></text>
<text x="1683" y="1865" class="b w it" textLength="587" lengthAdjust="spacingAndGlyphs">One-Step Catastrophic Overfitting:</text>
<text x="1683" y="1922" class="b" textLength="1215" lengthAdjust="spacingAndGlyphs">At step <tspan class="s">1</tspan>, we can prove the NN approximately learns a linear classifier</text>
<text x="2144" y="2012" class="e" fill="#1d1d1d" textLength="218" lengthAdjust="spacingAndGlyphs"><tspan class="i">f</tspan><tspan class="s">(</tspan><tspan class="v">x</tspan><tspan class="s">; </tspan><tspan class="v">W</tspan><tspan class="s o">(1)</tspan><tspan class="s">) ≈</tspan></text>
<text x="2398" y="1983" class="e i" text-anchor="middle" fill="#1d1d1d">α</text>
<rect x="2377" y="1999" width="41" height="2" fill="#1d1d1d"/>
<text x="2398" y="2039" class="e i" text-anchor="middle" fill="#1d1d1d"><tspan class="s">8</tspan>n</text>
<text x="2487" y="2023" font-size="72" class="s" text-anchor="middle" fill="#1d1d1d">∑</text>
<text x="2487" y="1964" font-size="27" class="i" text-anchor="middle" fill="#1d1d1d">n</text>
<text x="2487" y="2062" font-size="27" class="i" text-anchor="middle" fill="#1d1d1d">i<tspan class="s">=1</tspan></text>
<text x="2525" y="2012" class="e" fill="#1d1d1d" textLength="107" lengthAdjust="spacingAndGlyphs"><tspan class="i">y</tspan><tspan class="i u">i</tspan><tspan class="v">x</tspan><tspan class="i u">i</tspan><tspan class="s">, </tspan><tspan class="v">x</tspan></text>
<text x="1683" y="2106" class="b" textLength="1442" lengthAdjust="spacingAndGlyphs">This linear classifier can perfectly fit all the training data, but only achieves 50%</text>
<text x="1683" y="2145" class="b" textLength="590" lengthAdjust="spacingAndGlyphs">accuracy on the XOR distribution.</text>
<text x="1683" y="2203" class="b w it" textLength="413" lengthAdjust="spacingAndGlyphs">Delayed Generalizatioin:</text>
<text x="1683" y="2260" class="b" textLength="1367" lengthAdjust="spacingAndGlyphs">We can show that positive (resp. negative) neurons align with <tspan class="s">±</tspan><tspan class="v">μ</tspan><tspan class="s u">1</tspan> (resp. <tspan class="s">±</tspan><tspan class="v">μ</tspan><tspan class="s u">2</tspan>).</text>
<text x="1683" y="2317" class="b" textLength="1078" lengthAdjust="spacingAndGlyphs">Concretely, taking the direction <tspan class="s">+</tspan><tspan class="v">μ</tspan><tspan class="s u">1</tspan> as an example, we define</text>
<text x="2077" y="2370" class="e" fill="#1d1d1d" textLength="656" lengthAdjust="spacingAndGlyphs"><tspan class="i">J</tspan><tspan class="s u">1</tspan><tspan class="s"> = {</tspan><tspan class="i">j</tspan><tspan class="s"> : </tspan><tspan class="i">a</tspan><tspan class="i u">j</tspan><tspan class="s"> &gt; 0, </tspan><tspan class="v">w</tspan><tspan class="i u">j</tspan> aligns with<tspan class="s">  + </tspan><tspan class="v">μ</tspan><tspan class="s u">1</tspan><tspan class="s">};</tspan></text>
<text x="1683" y="2423" class="b" textLength="313" lengthAdjust="spacingAndGlyphs">At step <tspan class="i">t</tspan>, we have</text>
<rect x="1692" y="2483" width="9" height="9" fill="#0b2b52"/>
<text x="1716" y="2500" class="b" textLength="847" lengthAdjust="spacingAndGlyphs">A constant fraction of positive neurons are in <tspan class="i">J</tspan><tspan class="s u">1</tspan>.</text>
<rect x="1692" y="2534" width="9" height="9" fill="#0b2b52"/>
<text x="1716" y="2551" class="b" textLength="906" lengthAdjust="spacingAndGlyphs">Large average alignment with <tspan class="s">+</tspan><tspan class="v">μ</tspan><tspan class="s u">1</tspan> for neurons in <tspan class="i">J</tspan><tspan class="s u">1</tspan>:</text>
<text x="2161" y="2603" class="e s" text-anchor="middle" fill="#1d1d1d">1</text>
<rect x="2132" y="2621" width="61" height="2" fill="#1d1d1d"/>
<text x="2135" y="2664" class="e s" fill="#1d1d1d">|<tspan class="i">J</tspan><tspan class="u">1</tspan>|</text>
<text x="2232" y="2645" font-size="72" class="s" text-anchor="middle" fill="#1d1d1d">∑</text>
<text x="2232" y="2686" font-size="26" class="i" text-anchor="middle" fill="#1d1d1d">j<tspan class="s">∈</tspan>J<tspan class="s u">1</tspan></text>
<text x="2266" y="2633" class="e s" fill="#1d1d1d" textLength="256" lengthAdjust="spacingAndGlyphs">⟨<tspan class="v">w</tspan><tspan class="i u">j</tspan><tspan class="o">(</tspan><tspan class="i o">t</tspan><tspan class="o">)</tspan>, +<tspan class="v">μ</tspan><tspan class="u">1</tspan>⟩ = Ω</text>
<text x="2561" y="2603" class="e s" fill="#1d1d1d" textLength="107" lengthAdjust="spacingAndGlyphs"><tspan class="i">α</tspan>‖<tspan class="v">μ</tspan>‖<tspan class="o">2</tspan></text>
<rect x="2561" y="2621" width="107" height="2" fill="#1d1d1d"/>
<text x="2588" y="2660" class="e s" fill="#1d1d1d">√<tspan class="i" style="text-decoration:overline">m</tspan></text>
<text x="2669" y="2633" class="e i" fill="#1d1d1d">t</text>
<g transform="matrix(.969,0,0,.765,1660,1570)" fill="none" stroke="#1d1d1d" stroke-width="2">
<path vector-effect="non-scaling-stroke" d="M820,487L797,565L820,642M1008,487L1032,565L1008,642"/>
<path vector-effect="non-scaling-stroke" d="M925,1312C900,1350 900,1400 925,1438M1060,1312C1085,1350 1085,1400 1060,1438"/>
</g>

<!-- Column 3 top -->
<rect x="3257" y="413" width="9" height="9" fill="#0b2b52"/>
<text x="3280" y="430" class="b" textLength="961" lengthAdjust="spacingAndGlyphs">Small average alignment with <tspan class="s">±</tspan><tspan class="v">μ</tspan><tspan class="s u">2</tspan> for positive neurons:</text>
<text x="3563" y="496" class="e s" text-anchor="middle" fill="#1d1d1d">1</text>
<rect x="3455" y="513" width="218" height="2" fill="#1d1d1d"/>
<text x="3458" y="554" class="e s" fill="#1d1d1d" textLength="213" lengthAdjust="spacingAndGlyphs">|{<tspan class="i">j</tspan> : <tspan class="i">a</tspan><tspan class="i u">j</tspan> &gt; 0}|</text>
<text x="3719" y="535" font-size="72" class="s" text-anchor="middle" fill="#1d1d1d">∑</text>
<text x="3719" y="572" font-size="24" class="i" text-anchor="middle" fill="#1d1d1d">j<tspan class="s">:</tspan>a<tspan class="u">j</tspan><tspan class="s">&gt;0</tspan></text>
<text x="3768" y="524" class="e s" fill="#1d1d1d" textLength="257" lengthAdjust="spacingAndGlyphs">|⟨<tspan class="v">w</tspan><tspan class="i u">j</tspan><tspan class="o">(</tspan><tspan class="i o">t</tspan><tspan class="o">)</tspan>, <tspan class="v">μ</tspan><tspan class="u">2</tspan>⟩| = <tspan class="i">O</tspan></text>
<text x="4065" y="497" class="e s" fill="#1d1d1d" textLength="107" lengthAdjust="spacingAndGlyphs"><tspan class="i">α</tspan>‖<tspan class="v">μ</tspan>‖<tspan class="o">2</tspan></text>
<rect x="4065" y="513" width="107" height="2" fill="#1d1d1d"/>
<text x="4088" y="554" class="e s" fill="#1d1d1d">√<tspan class="i" style="text-decoration:overline">m</tspan></text>
<text x="4186" y="524" class="e s" fill="#1d1d1d">+</text>
<text x="4220" y="497" class="e s" fill="#1d1d1d" textLength="247" lengthAdjust="spacingAndGlyphs"><tspan class="i">α</tspan>‖<tspan class="v">μ</tspan>‖<tspan class="o">2</tspan>√<tspan style="text-decoration:overline">log(<tspan class="i">n</tspan>)</tspan></text>
<rect x="4220" y="513" width="247" height="2" fill="#1d1d1d"/>
<text x="4301" y="554" class="e s" fill="#1d1d1d">√<tspan class="i" style="text-decoration:overline">mn</tspan></text>
<text x="4469" y="524" class="e i" fill="#1d1d1d">t</text>
<g transform="matrix(.969,0,0,.542,3230,370)" fill="none" stroke="#1d1d1d" stroke-width="2.5">
<path vector-effect="non-scaling-stroke" d="M858,155C825,220 825,310 858,375M1296,155C1325,220 1325,310 1296,375"/>
</g>
<text x="3850" y="653" class="h" textLength="238" lengthAdjust="spacingAndGlyphs">Experiments</text>
<rect x="3247" y="680" width="1441" height="2" fill="#555"/>
<text x="3247" y="730" class="sh" textLength="277" lengthAdjust="spacingAndGlyphs">Training curves:</text>

<!-- Figure 3 -->
<g transform="matrix(.969,0,0,.542,3230,370)">
<rect x="105" y="732" width="650" height="466" fill="#fff"/>
<path d="M135,1160L135,1125L238,750L238,756Z" fill="#e3e3e3" stroke="#c9c9c9" vector-effect="non-scaling-stroke"/>
<path d="M135,1125L238,1097L300,835L345,785L390,760L430,755L727,752L727,775L640,778L540,795L480,810L430,835L375,875L300,965L265,1060L238,1167L135,1170Z" fill="#e3e3e3" stroke="#c9c9c9" stroke-width="1.5" vector-effect="non-scaling-stroke"/>
<path d="M107,1150H752" stroke="#777" stroke-width="3" stroke-dasharray="3 4" vector-effect="non-scaling-stroke"/>
<path d="M135,1155L238,753L727,753" fill="none" stroke="#000" stroke-width="3.5" stroke-dasharray="10 6" vector-effect="non-scaling-stroke"/>
<path d="M135,1155L238,1133L300,885L345,830L377,795L428,770L482,761L545,757L640,757L727,753" fill="none" stroke="#000" stroke-width="4" vector-effect="non-scaling-stroke"/>
<rect x="105" y="732" width="650" height="466" fill="none" stroke="#000" stroke-width="2" vector-effect="non-scaling-stroke"/>
<path d="M105,755h-10M105,912h-10M105,1072h-10M135,1198v14M482,1198v14M238,1198v8M300,1198v8M344,1198v8M378,1198v8M407,1198v8M430,1198v8M450,1198v8M467,1198v8M585,1198v8M646,1198v8M690,1198v8M724,1198v8M752,1198v8" stroke="#000" stroke-width="1.5" vector-effect="non-scaling-stroke" fill="none"/>
<rect x="450" y="850" width="285" height="280" rx="6" fill="#fff" fill-opacity=".85" stroke="#ccc" stroke-width="1.5" vector-effect="non-scaling-stroke"/>
<path d="M460,886H512" stroke="#000" stroke-width="3.5" stroke-dasharray="10 5" vector-effect="non-scaling-stroke"/>
<path d="M460,953H512" stroke="#000" stroke-width="4" vector-effect="non-scaling-stroke"/>
<rect x="460" y="1005" width="52" height="32" fill="#e3e3e3" stroke="#c0c0c0" vector-effect="non-scaling-stroke"/>
<path d="M460,1087H512" stroke="#777" stroke-width="3" stroke-dasharray="3 4" vector-effect="non-scaling-stroke"/>
<!-- right -->
<rect x="855" y="737" width="650" height="466" fill="#fff"/>
<path d="M884,1135L960,1090L1010,1010L1050,900L1090,810L1125,765L1475,755L1475,765L1140,765L1110,820L1070,940L1030,1040L980,1110L884,1180Z" fill="#e3e3e3" stroke="#c9c9c9" stroke-width="1.5" vector-effect="non-scaling-stroke"/>
<path d="M884,1135L1100,1135L1200,1110L1280,1060L1320,920L1350,790L1380,760L1475,755L1475,768L1420,775L1380,900L1340,1020L1290,1090L1220,1135L1100,1170L884,1182Z" fill="#dcdcdc" fill-opacity=".9" stroke="#c9c9c9" stroke-width="1.5" vector-effect="non-scaling-stroke"/>
<path d="M857,1162H1503" stroke="#777" stroke-width="3" stroke-dasharray="3 4" vector-effect="non-scaling-stroke"/>
<path d="M884,1163L965,1108L1015,1030L1060,900L1095,805L1130,762L1475,758" fill="none" stroke="#000" stroke-width="3.5" stroke-dasharray="10 6" vector-effect="non-scaling-stroke"/>
<path d="M884,1162L1090,1160L1170,1155L1235,1130L1290,1050L1330,960L1360,870L1390,785L1415,763L1475,757" fill="none" stroke="#000" stroke-width="4" vector-effect="non-scaling-stroke"/>
<rect x="855" y="737" width="650" height="466" fill="none" stroke="#000" stroke-width="2" vector-effect="non-scaling-stroke"/>
<path d="M855,747h-10M855,909h-10M855,1070h-10M884,1203v14M1044,1203v14M1204,1203v14M1363,1203v14M932,1192v11M960,1192v11M980,1192v11M996,1192v11M1008,1192v11M1019,1192v11M1028,1192v11M1036,1192v11M1092,1192v11M1120,1192v11M1140,1192v11M1156,1192v11M1168,1192v11M1179,1192v11M1188,1192v11M1196,1192v11M1252,1192v11M1280,1192v11M1300,1192v11M1316,1192v11M1328,1192v11M1339,1192v11M1348,1192v11M1356,1192v11M1411,1192v11M1439,1192v11M1459,1192v11M1475,1192v11M1487,1192v11M1498,1192v11" stroke="#000" stroke-width="1.5" vector-effect="non-scaling-stroke" fill="none"/>
</g>
<text x="3276" y="790" class="tk" textLength="41" lengthAdjust="spacingAndGlyphs">1.0</text><text x="3276" y="875" class="tk" textLength="41" lengthAdjust="spacingAndGlyphs">0.8</text><text x="3276" y="962" class="tk" textLength="41" lengthAdjust="spacingAndGlyphs">0.6</text>
<text x="4002" y="786" class="tk" textLength="41" lengthAdjust="spacingAndGlyphs">1.0</text><text x="4002" y="874" class="tk" textLength="41" lengthAdjust="spacingAndGlyphs">0.8</text><text x="4002" y="961" class="tk" textLength="41" lengthAdjust="spacingAndGlyphs">0.6</text>
<text transform="translate(3259,893) rotate(-90)" font-size="24" fill="#111" font-family="DejaVu Sans, sans-serif" text-anchor="middle">accuracy</text>
<g text-anchor="middle">
<text x="3361" y="1054" class="tk">10<tspan class="o" style="baseline-shift:11px">0</tspan></text><text x="3697" y="1054" class="tk">10<tspan class="o" style="baseline-shift:11px">1</tspan></text>
<text x="4087" y="1057" class="tk">10<tspan class="o" style="baseline-shift:11px">0</tspan></text><text x="4242" y="1057" class="tk">10<tspan class="o" style="baseline-shift:11px">1</tspan></text><text x="4397" y="1057" class="tk">10<tspan class="o" style="baseline-shift:11px">2</tspan></text><text x="4551" y="1057" class="tk">10<tspan class="o" style="baseline-shift:11px">3</tspan></text>
</g>
<text x="3610" y="1094" class="t" textLength="74" lengthAdjust="spacingAndGlyphs">epoch</text><text x="4336" y="1090" class="t" textLength="74" lengthAdjust="spacingAndGlyphs">epoch</text>
<text x="3745" y="858" class="t" textLength="179" lengthAdjust="spacingAndGlyphs">train (median)</text><text x="3745" y="894" class="t" textLength="169" lengthAdjust="spacingAndGlyphs">test (median)</text><text x="3745" y="931" class="t" textLength="180" lengthAdjust="spacingAndGlyphs">20-80 quantile</text><text x="3745" y="967" class="t" textLength="186" lengthAdjust="spacingAndGlyphs">accuracy = 0.5</text>
<text x="3325" y="1133" class="c" textLength="1286" lengthAdjust="spacingAndGlyphs"><tspan class="n">Figure 3.</tspan> Benign overfitting and grokking in XOR cluster data. Left: large step size regime</text>
<text x="3553" y="1174" class="c" textLength="828" lengthAdjust="spacingAndGlyphs"><tspan class="s">(</tspan><tspan class="i">α</tspan><tspan class="s">/</tspan><tspan class="i">ω</tspan><tspan class="u">init</tspan><tspan class="s"> = 1000</tspan>); Right: gradient flow regime <tspan class="s">(</tspan><tspan class="i">α</tspan><tspan class="s">/</tspan><tspan class="i">ω</tspan><tspan class="u">init</tspan><tspan class="s"> = 0.1</tspan>).</text>

<!-- Figure 4 -->
<text x="3247" y="1257" class="sh" textLength="621" lengthAdjust="spacingAndGlyphs">Visualization of decision boundary:</text>
<text x="3337" y="1308" class="g" textLength="155" lengthAdjust="spacingAndGlyphs">Cluster detail</text>
<text x="3585" y="1308" class="g" textLength="74" lengthAdjust="spacingAndGlyphs">Step 0</text>
<text x="3833" y="1308" class="g" textLength="73" lengthAdjust="spacingAndGlyphs">Step 1</text>
<text x="4083" y="1308" class="g" textLength="87" lengthAdjust="spacingAndGlyphs">Step 15</text>
<text x="4332" y="1308" class="g" textLength="202" lengthAdjust="spacingAndGlyphs">Neurons @ Step 1</text>
<text x="4581" y="1308" class="g" textLength="217" lengthAdjust="spacingAndGlyphs">Neurons @ Step 15</text>
<g transform="matrix(.4847,0,0,.3333,3240,1280)">
<!-- P1 -->
<rect x="14" y="114" width="368" height="533" fill="#fee5a5"/>
<path d="M14,498L382,433V647H14Z" fill="#90c8fb"/>
<use href="#by" x="228" y="347"/><use href="#by" x="224" y="412"/><use href="#by" x="227" y="391"/><use href="#by" x="154" y="420"/><use href="#by" x="180" y="489"/><use href="#bb" x="187" y="242"/><use href="#bb" x="250" y="363"/>
<path d="M14,647V114H382V647" fill="none" stroke="#000" stroke-width="2" vector-effect="non-scaling-stroke"/><path d="M14,647H382" stroke="#888" stroke-width="2" vector-effect="non-scaling-stroke"/>
<!-- P2 -->
<rect x="528" y="114" width="367" height="533" fill="#fee5a5"/>
<path d="M767,114H895V647H528V411L715,385Z" fill="#90c8fb"/>
<path d="M712,114V647M528,380H895" stroke="#808080" stroke-width="5" fill="none" vector-effect="non-scaling-stroke"/>
<use href="#cl"/>
<path d="M528,114H895" stroke="#000" stroke-width="2" vector-effect="non-scaling-stroke"/>
<path d="M528,647V114M895,114V647M528,647H895" stroke="#666" stroke-width="1.5" fill="none" vector-effect="non-scaling-stroke"/>
<g fill="none" stroke="#808080" stroke-width="2" stroke-dasharray="7 5">
<path vector-effect="non-scaling-stroke" d="M571,305H673V457H571Z"/>
<path vector-effect="non-scaling-stroke" d="M382,114L673,305M382,242L571,305M382,520L571,457M382,647L673,457"/>
</g>
<!-- P3 -->
<rect x="1042" y="114" width="367" height="533" fill="#fee5a5"/>
<path d="M1042,242L1226,380L1408,565V647H1042Z" fill="#90c8fb"/>
<path d="M1226,114V647M1042,380H1408" stroke="#808080" stroke-width="5" fill="none" vector-effect="non-scaling-stroke"/>
<use href="#cl" x="514"/>
<path d="M1042,114H1408" stroke="#000" stroke-width="2" vector-effect="non-scaling-stroke"/>
<path d="M1042,647V114M1408,114V647M1042,647H1408" stroke="#666" stroke-width="1.5" fill="none" vector-effect="non-scaling-stroke"/>
<!-- P4 -->
<rect x="1556" y="114" width="367" height="533" fill="#fee5a5"/>
<path d="M1610,114H1769L1740,376ZM1555,458L1740,376L1923,611V647H1555Z" fill="#90c8fb"/>
<path d="M1740,114V647M1556,380H1923" stroke="#808080" stroke-width="5" fill="none" vector-effect="non-scaling-stroke"/>
<use href="#cl" x="1028"/>
<path d="M1556,114H1923" stroke="#000" stroke-width="2" vector-effect="non-scaling-stroke"/>
<path d="M1556,647V114M1923,114V647M1556,647H1923" stroke="#666" stroke-width="1.5" fill="none" vector-effect="non-scaling-stroke"/>
</g>
<g transform="matrix(.969,0,0,.6378,3230,1200)">
<rect x="1046" y="185" width="183" height="279" fill="#fff"/>
<path d="M1137,185V464M1046,323H1229" stroke="#808080" stroke-width="4" fill="none" vector-effect="non-scaling-stroke"/>
<g stroke="#fde8a8" stroke-width="2.5" fill="none">
<path vector-effect="non-scaling-stroke" d="M1137,323L1114,247M1137,323L1146,250M1137,323L1130,260M1137,323L1220,260M1137,323L1156,272M1137,323L1121,279M1137,323L1103,295M1137,323L1070,300M1137,323L1165,290M1137,323L1175,285"/>
</g>
<g stroke="#90c8fb" stroke-width="2.5" fill="none">
<path vector-effect="non-scaling-stroke" d="M1137,323L1079,298M1137,323L1088,337M1137,323L1127,377M1137,323L1137,392M1137,323L1099,397M1137,323L1112,406M1137,323L1139,427"/>
</g>
<use href="#db" x="1079" y="298"/><use href="#db" x="1160" y="296"/><use href="#db" x="1147" y="312"/><use href="#db" x="1135" y="315"/><use href="#db" x="1115" y="312"/><use href="#db" x="1128" y="320"/><use href="#db" x="1120" y="330"/><use href="#db" x="1088" y="337"/><use href="#db" x="1130" y="335"/><use href="#db" x="1115" y="348"/><use href="#db" x="1125" y="345"/><use href="#db" x="1127" y="377"/><use href="#db" x="1137" y="392"/><use href="#db" x="1099" y="397"/><use href="#db" x="1112" y="406"/><use href="#db" x="1139" y="427"/>
<use href="#dy" x="1114" y="247"/><use href="#dy" x="1146" y="250"/><use href="#dy" x="1130" y="260"/><use href="#dy" x="1220" y="260"/><use href="#dy" x="1156" y="272"/><use href="#dy" x="1121" y="279"/><use href="#dy" x="1103" y="295"/><use href="#dy" x="1070" y="300"/><use href="#dy" x="1165" y="290"/><use href="#dy" x="1175" y="285"/><use href="#dy" x="1180" y="297"/><use href="#dy" x="1107" y="324"/><use href="#dy" x="1140" y="325"/><use href="#dy" x="1155" y="330"/><use href="#dy" x="1145" y="338"/><use href="#dy" x="1160" y="335"/><use href="#dy" x="1166" y="351"/>
<path d="M1046,185H1229" stroke="#000" stroke-width="2" vector-effect="non-scaling-stroke"/>
<path d="M1046,464V185M1229,185V464M1046,464H1229" stroke="#666" stroke-width="1.5" fill="none" vector-effect="non-scaling-stroke"/>
<!-- P6 -->
<rect x="1302" y="185" width="184" height="279" fill="#fff"/>
<path d="M1394,185V464M1302,323H1486" stroke="#808080" stroke-width="4" fill="none" vector-effect="non-scaling-stroke"/>
<path d="M1394,323H1324M1394,323H1477" stroke="#fde8a8" stroke-width="2.5" vector-effect="non-scaling-stroke"/>
<use href="#dy" x="1324" y="320"/><use href="#dy" x="1342" y="319"/><use href="#dy" x="1350" y="318"/><use href="#dy" x="1358" y="320"/><use href="#dy" x="1361" y="317"/><use href="#dy" x="1414" y="320"/><use href="#dy" x="1425" y="319"/><use href="#dy" x="1432" y="318"/><use href="#dy" x="1438" y="320"/><use href="#dy" x="1445" y="319"/><use href="#dy" x="1452" y="318"/><use href="#dy" x="1477" y="318"/>
<use href="#db" x="1390" y="255"/><use href="#db" x="1390" y="263"/><use href="#db" x="1392" y="290"/><use href="#db" x="1392" y="298"/><use href="#db" x="1390" y="305"/><use href="#db" x="1390" y="343"/><use href="#db" x="1390" y="355"/><use href="#db" x="1392" y="362"/><use href="#db" x="1394" y="375"/><use href="#db" x="1390" y="390"/><use href="#db" x="1390" y="407"/><use href="#db" x="1391" y="420"/><use href="#db" x="1390" y="430"/><use href="#db" x="1392" y="437"/><use href="#db" x="1392" y="445"/>
<path d="M1302,185H1486" stroke="#000" stroke-width="2" vector-effect="non-scaling-stroke"/>
<path d="M1302,464V185M1486,185V464M1302,464H1486" stroke="#666" stroke-width="1.5" fill="none" vector-effect="non-scaling-stroke"/>
</g>
<text x="3247" y="1533" class="c" textLength="1323" lengthAdjust="spacingAndGlyphs"><tspan class="n">Figure 4.</tspan> <tspan class="it">Left four panels</tspan>: 2-dimensional projection of the XOR cluster data and the decision</text>
<text x="3247" y="1573" class="c" textLength="1441" lengthAdjust="spacingAndGlyphs">boundary of the classifier restricted to the subspace spanned by the cluster means. <tspan class="it">Right two panels</tspan>:</text>
<text x="3247" y="1613" class="c" textLength="695" lengthAdjust="spacingAndGlyphs">2-dimensional projection of the neuron weights.</text>

<!-- Figure 5 -->
<text x="3247" y="1696" class="sh" textLength="574" lengthAdjust="spacingAndGlyphs">Visualization of feature learning:</text>
<g font-size="33" fill="#111">
<text x="3490" y="1760" textLength="73" lengthAdjust="spacingAndGlyphs">t = 0</text><text x="3720" y="1760" textLength="73" lengthAdjust="spacingAndGlyphs">t = 1</text><text x="3952" y="1760" textLength="73" lengthAdjust="spacingAndGlyphs">t = 2</text><text x="4182" y="1760" textLength="73" lengthAdjust="spacingAndGlyphs">t = 3</text><text x="4403" y="1760" textLength="93" lengthAdjust="spacingAndGlyphs">t = 10</text>
</g>
<g transform="matrix(.5102,0,0,.3333,3300,1760)" fill="none">
<g stroke="#111" stroke-width="2.5">
<path vector-effect="non-scaling-stroke" d="M257,44H633V420H240M257,420V44M240,222H257"/>
<path vector-effect="non-scaling-stroke" d="M709,44H1085V420H692M709,420V44M692,225H709"/>
<path vector-effect="non-scaling-stroke" d="M1160,44H1537V420H1143M1160,420V44M1143,195H1160"/>
<path vector-effect="non-scaling-stroke" d="M257,497H633V873H240M257,873V497M240,675H257M335,873V903M448,873V903M561,873V903"/>
<path vector-effect="non-scaling-stroke" d="M709,497H1085V873H692M709,873V497M692,668H709M794,873V903M900,873V903M1007,873V903"/>
<path vector-effect="non-scaling-stroke" d="M1160,497H1537V873H1143M1160,873V497M1143,550H1160M1172,873V903M1355,873V903M1537,873V903"/>
</g>
<g stroke="#e5be6a" stroke-width="3">
<path vector-effect="non-scaling-stroke" d="M325,415L355,405L375,360L395,270L410,190L425,100L445,60L462,90L478,150L495,250L515,340L535,390L570,416"/>
<path vector-effect="non-scaling-stroke" d="M775,416L815,380L835,310L855,200L875,160L885,80L890,100L897,60L907,130L915,100L930,190L945,260L965,345L985,395L1030,416"/>
<path vector-effect="non-scaling-stroke" d="M1215,415L1245,380L1265,220L1290,60L1305,150L1325,310L1345,342L1385,315L1395,225L1415,100L1425,120L1445,300L1470,395L1495,416"/>
</g>
<g stroke="#3db0a4" stroke-width="3">
<path vector-effect="non-scaling-stroke" d="M320,870L360,850L385,780L415,600L425,560L445,515L465,560L490,660L515,790L540,850L570,870"/>
<path vector-effect="non-scaling-stroke" d="M775,870L820,830L855,700L880,570L900,512L915,550L940,640L970,790L1000,850L1025,870"/>
<path vector-effect="non-scaling-stroke" d="M1290,870L1305,810L1320,600L1330,512L1345,640L1355,712L1370,620L1382,575L1395,720L1410,850L1422,870"/>
</g>
<g stroke="#000" stroke-width="2">
<path vector-effect="non-scaling-stroke" d="M139,205V60"/>
<path vector-effect="non-scaling-stroke" d="M283,1122H370"/>
</g>
<path d="M139,45L157,140L139,115L121,140Z" fill="#000"/>
<path d="M388,1122L325,1095L345,1122L325,1150Z" fill="#000"/>
</g>
<g transform="matrix(.4082,0,0,.3333,4080,1760)" fill="none">
<g stroke="#111" stroke-width="2.5">
<path vector-effect="non-scaling-stroke" d="M105,44H576V420H85M105,420V44M85,225H105"/>
<path vector-effect="non-scaling-stroke" d="M670,44H1141V420H650M670,420V44M650,188H670"/>
<path vector-effect="non-scaling-stroke" d="M105,497H576V873H85M105,873V497M85,513H105M170,873V903M347,873V903M527,873V903"/>
<path vector-effect="non-scaling-stroke" d="M670,497H1141V873H650M670,873V497M650,576H670M722,873V903M913,873V903M1105,873V903"/>
</g>
<g stroke="#e5be6a" stroke-width="3">
<path vector-effect="non-scaling-stroke" d="M155,416L200,395L225,250L260,60L290,280L320,385L345,402L385,350L410,220L435,78L460,260L490,395L535,414"/>
<path vector-effect="non-scaling-stroke" d="M700,416L730,370L780,375L795,300L805,100L820,60L840,200L870,390L895,416M935,416L960,360L985,180L1010,95L1025,200L1040,385L1095,378L1115,416"/>
</g>
<g stroke="#3db0a4" stroke-width="3">
<path vector-effect="non-scaling-stroke" d="M300,870L320,770L330,610L352,512L365,680L380,790L390,870"/>
<path vector-effect="non-scaling-stroke" d="M900,870L902,790L908,512L918,570L925,700L930,870"/>
</g>
</g>
<g font-size="28" fill="#111">
<text x="3443" y="1843" textLength="54" lengthAdjust="spacingAndGlyphs">0.02</text><text x="3673" y="1844" textLength="54" lengthAdjust="spacingAndGlyphs">0.02</text><text x="3904" y="1834" textLength="54" lengthAdjust="spacingAndGlyphs">0.02</text>
<text x="3443" y="1994" textLength="54" lengthAdjust="spacingAndGlyphs">0.02</text><text x="3673" y="1992" textLength="54" lengthAdjust="spacingAndGlyphs">0.02</text><text x="3904" y="1953" textLength="54" lengthAdjust="spacingAndGlyphs">0.05</text>
<text x="4134" y="1844" textLength="54" lengthAdjust="spacingAndGlyphs">0.02</text><text x="4365" y="1832" textLength="54" lengthAdjust="spacingAndGlyphs">0.03</text>
<text x="4134" y="1941" textLength="54" lengthAdjust="spacingAndGlyphs">0.10</text><text x="4365" y="1961" textLength="54" lengthAdjust="spacingAndGlyphs">0.20</text>
<text x="3404" y="1909">0</text><text x="3401" y="2060">0</text>
</g>
<g font-size="29" fill="#111" text-anchor="middle">
<text x="3471" y="2088">−1</text><text x="3529" y="2088">0</text><text x="3586" y="2088">1</text><text x="3705" y="2088">−5</text><text x="3759" y="2088">0</text><text x="3814" y="2088">5</text><text x="3898" y="2088">−2</text><text x="3991" y="2088">0</text><text x="4084" y="2088">2</text>
<text x="4149" y="2088">−2.5</text><text x="4222" y="2088">0.0</text><text x="4295" y="2088">2.5</text><text x="4375" y="2088">−1</text><text x="4453" y="2088">0</text><text x="4531" y="2088">1</text>
</g>
<g font-size="29" fill="#111" text-anchor="end">
<text x="3621" y="2119">1e−13</text><text x="3853" y="2119">1e−12</text><text x="4083" y="2119">1e−11</text><text x="4313" y="2119">1e−11</text><text x="4544" y="2119">1e−10</text>
</g>
<text transform="translate(3344,2038) rotate(-90)" font-size="30" fill="#111" font-family="DejaVu Sans, sans-serif" textLength="238" lengthAdjust="spacingAndGlyphs">Number of neurons</text>
<text transform="translate(3376,1992) rotate(-90)" font-size="30" fill="#111" font-family="DejaVu Sans, sans-serif" textLength="146" lengthAdjust="spacingAndGlyphs">(Frequency)</text>
<rect x="3247" y="2085" width="51" height="19" fill="#e2bb6a"/>
<rect x="3247" y="2132" width="51" height="19" fill="#3daea0"/>
<text x="3318" y="2102" font-size="31" fill="#111" class="i" textLength="99" lengthAdjust="spacingAndGlyphs">⟨w<tspan class="u">j</tspan><tspan class="o">(t)</tspan>, μ<tspan class="u">1</tspan>⟩</text>
<text x="3318" y="2148" font-size="31" fill="#111" class="i" textLength="99" lengthAdjust="spacingAndGlyphs">⟨w<tspan class="u">j</tspan><tspan class="o">(t)</tspan>, μ<tspan class="u">2</tspan>⟩</text>
<text x="3247" y="2199" class="c" textLength="1441" lengthAdjust="spacingAndGlyphs"><tspan class="n">Figure 5.</tspan> Histograms of inner products between positive neurons and <tspan class="s">+</tspan><tspan class="v">μ</tspan><tspan class="s u">1</tspan> (first row) or <tspan class="s">+</tspan><tspan class="v">μ</tspan><tspan class="s u">2</tspan> (second</text>
<text x="3247" y="2233" class="c" textLength="574" lengthAdjust="spacingAndGlyphs">row) pooled over 100 independent runs</text>

<!-- References -->
<text x="3862" y="2353" class="h" textLength="213" lengthAdjust="spacingAndGlyphs">References</text>
<rect x="3247" y="2380" width="1441" height="2" fill="#555"/>
<text x="3247" y="2476" class="r">[1]</text>
<text x="3303" y="2476" class="r" textLength="986" lengthAdjust="spacingAndGlyphs">Peter L. Bartlett, Philip M. Long, Gábor Lugosi, and Alexander Tsigler.</text>
<text x="3303" y="2515" class="r" textLength="545" lengthAdjust="spacingAndGlyphs">Benign overfitting in linear regression.</text>
<text x="3303" y="2555" class="r" textLength="1196" lengthAdjust="spacingAndGlyphs"><tspan class="it">Proceedings of the National Academy of Sciences</tspan>, 117(48):30063–30070, April 2020.</text>
<text x="3247" y="2612" class="r">[2]</text>
<text x="3303" y="2612" class="r" textLength="1121" lengthAdjust="spacingAndGlyphs">Alethea Power, Yuri Burda, Harri Edwards, Igor Babuschkin, and Vedant Misra.</text>
<text x="3303" y="2653" class="r" textLength="1070" lengthAdjust="spacingAndGlyphs">Grokking: Generalization beyond overfitting on small algorithmic datasets.</text>
<text x="3303" y="2692" class="r" textLength="80" lengthAdjust="spacingAndGlyphs">2022.</text>

<!-- Footer -->
<text x="2280" y="2849" font-size="30" fill="#444" textLength="260" lengthAdjust="spacingAndGlyphs">ICLR 2024 Poster</text>
</svg>
</body></html>
